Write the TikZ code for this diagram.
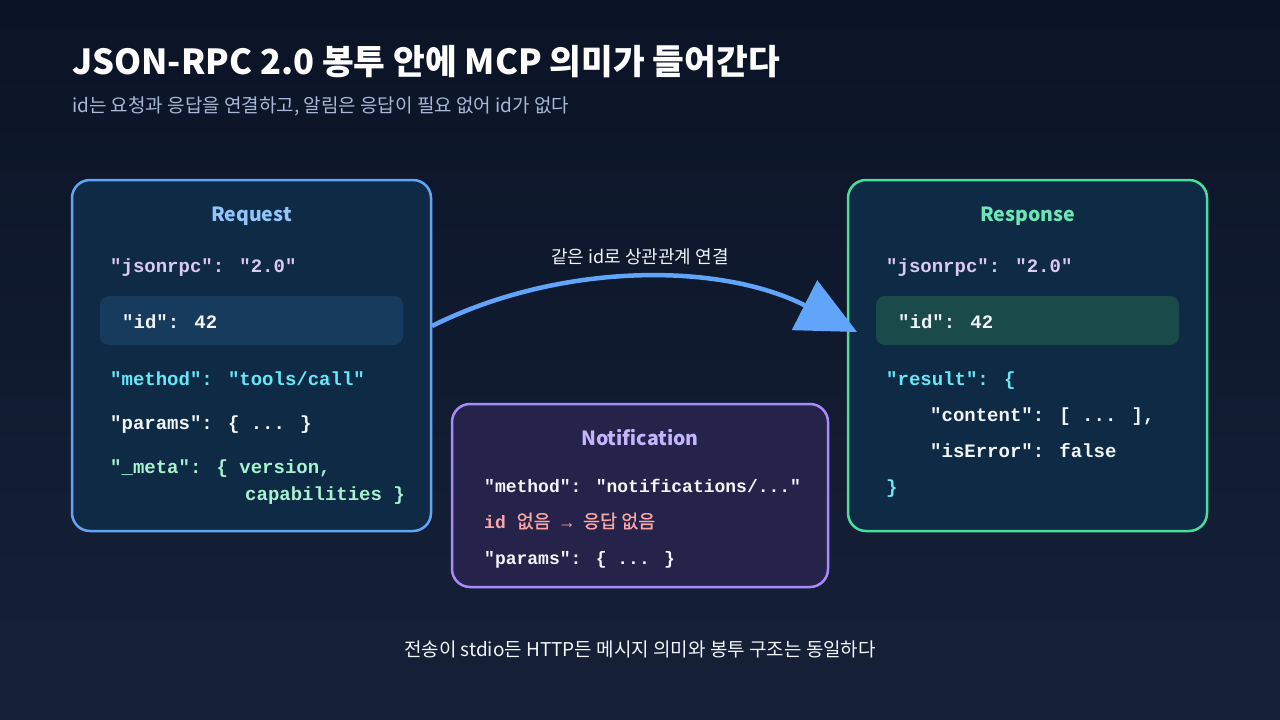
\documentclass[tikz,border=0pt]{standalone}
\usepackage{fontspec}
\setmainfont{Noto Sans CJK KR}
\newfontfamily\cjk{Noto Sans CJK KR}
\newfontfamily\cjkmed{Noto Sans CJK KR}[FakeBold=0.7]
\newfontfamily\monof{Liberation Mono}
\usetikzlibrary{arrows.meta}
\definecolor{bgtop}{HTML}{0B1426}
\definecolor{bgbot}{HTML}{162139}
\definecolor{reqborder}{HTML}{60A5FA}
\definecolor{boxfill}{HTML}{0F2A44}
\definecolor{reqid}{HTML}{173B5D}
\definecolor{resborder}{HTML}{4ADE9B}
\definecolor{resid}{HTML}{1A4A4A}
\definecolor{notborder}{HTML}{A78BFA}
\definecolor{notfill}{HTML}{26234A}
\definecolor{reqtitle}{HTML}{93C5FD}
\definecolor{restitle}{HTML}{6EE7B7}
\definecolor{nottitle}{HTML}{C4B5FD}
\definecolor{lav}{HTML}{DCC8F6}
\definecolor{cyanc}{HTML}{67E8F9}
\definecolor{mint}{HTML}{A7F3D0}
\definecolor{salmon}{HTML}{FCA5A5}
\definecolor{whitec}{HTML}{F1F5F9}
\definecolor{subc}{HTML}{A9B8D6}
\definecolor{arrowc}{HTML}{60A5FA}
\begin{document}
\begin{tikzpicture}[x=1pt,y=-1pt,
  card/.style={rounded corners=18pt,line width=2.5pt,minimum width=#1,inner sep=0pt},
  idbox/.style={rounded corners=9pt,inner sep=0pt,minimum height=49pt},
  cardtitle/.style={font=\cjk\bfseries\fontsize{19.5}{23}\selectfont,anchor=base,inner sep=0pt},
  code/.style={font=\monof\bfseries\fontsize{19}{23}\selectfont,anchor=base west,inner sep=0pt},
  ncode/.style={font=\monof\bfseries\fontsize{18}{22}\selectfont,anchor=base west,inner sep=0pt},
  arrowline/.style={draw=arrowc,line width=4.5pt,-{Triangle[length=59pt,width=55pt]}}
]
\useasboundingbox (0,0) rectangle (1280,720);
\shade[top color=bgtop,bottom color=bgbot] (0,0) rectangle (1280,720);

% title
\node[anchor=base west,inner sep=0pt,text=white,font=\cjk\bfseries\fontsize{34.5}{40}\selectfont] (title) at (72,74) {JSON-RPC 2.0 봉투 안에 MCP 의미가 들어간다};
\node[anchor=base west,inner sep=0pt,text=subc,font=\cjk\fontsize{19}{22}\selectfont] (subtitle) at (72,112) {id는 요청과 응답을 연결하고, 알림은 응답이 필요 없어 id가 없다};

% request card
\node[card=359pt,minimum height=351pt,draw=reqborder,fill=boxfill] (req) at (251.5,355.5) {};
\node[cardtitle,text=reqtitle] (reqt) at (251.5,221) {Request};
\node[code,text=lav] (r1) at (110,272) {"jsonrpc": "2.0"};
\node[idbox,minimum width=303pt,fill=reqid] (reqidbox) at (251.5,320.5) {};
\node[code,text=whitec] (r2) at (122,328) {"id": 42};
\node[code,text=cyanc] (r3) at (110,385) {"method": "tools/call"};
\node[code,text=whitec] (r4) at (110,429) {"params": \{ ... \}};
\node[code,text=mint] (r5) at (110,473) {"\_meta": \{ version,};
\node[code,text=mint] (r6) at (245,500) {capabilities \}};

% response card
\node[card=359pt,minimum height=351pt,draw=resborder,fill=boxfill] (res) at (1027.5,355.5) {};
\node[cardtitle,text=restitle] (rest) at (1027.5,221) {Response};
\node[code,text=lav] (s1) at (886,272) {"jsonrpc": "2.0"};
\node[idbox,minimum width=303pt,fill=resid] (residbox) at (1027.5,320.5) {};
\node[code,text=whitec] (s2) at (898,328) {"id": 42};
\node[code,text=cyanc] (s3) at (886,385) {"result": \{};
\node[code,text=whitec] (s4) at (930,421) {"content": [ ... ],};
\node[code,text=whitec] (s5) at (930,457) {"isError": false};
\node[code,text=cyanc] (s6) at (886,493) {\}};

% notification card
\node[card=376pt,minimum height=183pt,draw=notborder,fill=notfill] (nott) at (640,495.5) {};
\node[cardtitle,text=nottitle] (nottl) at (640,445) {Notification};
\node[ncode,text=whitec] (n1) at (484,492) {"method": "notifications/..."};
\node[ncode,text=salmon] (n2) at (484,528) {id {\cjkmed\mdseries\fontsize{18.5}{22}\selectfont 없음} → {\cjkmed\mdseries\fontsize{18.5}{22}\selectfont 응답 없음}};
\node[ncode,text=whitec] (n3) at (484,564) {"params": \{ ... \}};

% arrow
\coordinate (a1) at (432,326);
\coordinate (a2) at (857,332);
\draw[arrowline] (a1) .. controls (560,262) and (720,262) .. (a2);
\node[anchor=base,inner sep=0pt,text=whitec,font=\cjk\fontsize{18}{21}\selectfont] (alabel) at (640,263) {같은 id로 상관관계 연결};

% footer
\node[anchor=base,inner sep=0pt,text=whitec,font=\cjk\fontsize{19}{22}\selectfont] (footer) at (640,656) {전송이 stdio든 HTTP든 메시지 의미와 봉투 구조는 동일하다};
\end{tikzpicture}
\end{document}
